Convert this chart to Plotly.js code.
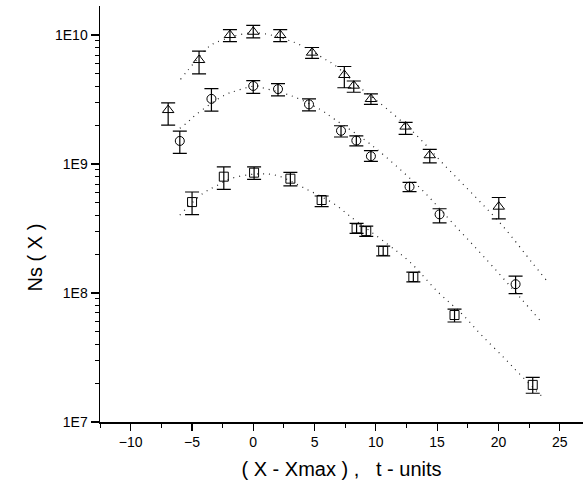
<!DOCTYPE html>
<html>
<head>
<meta charset="utf-8">
<script src="https://cdn.plot.ly/plotly-3.0.1.min.js"></script>
<style>html,body{margin:0;padding:0;background:#fff}#chart{width:583px;height:495px}</style>
</head>
<body>
<div id="chart"></div>
<script>
// Triangles (upper series)
const triX  = [-6.94, -4.42, -1.9, 0, 2.2, 4.8, 7.43, 8.2, 9.6, 12.43, 14.4, 20.03];
const triY  = [2.62e9, 6.4e9, 1.0e10, 1.06e10, 1.0e10, 7.3e9, 4.9e9, 4.05e9, 3.19e9, 1.95e9, 1.17e9, 4.67e8];
const triHi = [2.98e9, 7.5e9, 1.1e10, 1.19e10, 1.1e10, 8.0e9, 5.7e9, 4.4e9, 3.5e9, 2.1e9, 1.3e9, 5.5e8];
const triLo = [2.0e9, 5.0e9, 8.9e9, 9.5e9, 8.9e9, 6.6e9, 3.9e9, 3.6e9, 2.9e9, 1.7e9, 1.02e9, 3.75e8];

// Circles (middle series)
const cirX  = [-5.99, -3.41, 0, 2.02, 4.55, 7.16, 8.41, 9.6, 12.75, 15.2, 21.4];
const cirY  = [1.51e9, 3.2e9, 4.03e9, 3.81e9, 2.9e9, 1.81e9, 1.52e9, 1.15e9, 6.67e8, 4.07e8, 1.17e8];
const cirHi = [1.8e9, 3.84e9, 4.43e9, 4.2e9, 3.2e9, 1.98e9, 1.65e9, 1.27e9, 7.2e8, 4.5e8, 1.35e8];
const cirLo = [1.21e9, 2.57e9, 3.53e9, 3.38e9, 2.58e9, 1.62e9, 1.38e9, 1.05e9, 6.1e8, 3.5e8, 9.9e7];

// Squares (lower series)
const sqX  = [-4.99, -2.4, 0.07, 3.03, 5.58, 8.43, 9.22, 10.6, 13.06, 16.42, 22.8];
const sqY  = [5.07e8, 7.98e8, 8.57e8, 7.7e8, 5.26e8, 3.17e8, 3.02e8, 2.12e8, 1.33e8, 6.75e7, 1.94e7];
const sqHi = [6.07e8, 9.5e8, 9.5e8, 8.6e8, 5.65e8, 3.47e8, 3.3e8, 2.31e8, 1.45e8, 7.5e7, 2.22e7];
const sqLo = [4.05e8, 6.37e8, 7.6e8, 6.76e8, 4.67e8, 2.9e8, 2.75e8, 1.94e8, 1.22e8, 5.96e7, 1.67e7];

// Dotted fit curves
const fitTriX = [-5.93, -5.31, -3.63, -3.0, 0, 3.33, 5.97, 6.64, 8.95, 10.8, 13.16, 15.6, 18.05, 20.36, 22.75, 23.9];
const fitTriY = [4.54e9, 5.36e9, 8.1e9, 8.78e9, 1.04e10, 8.78e9, 6.4e9, 5.85e9, 3.75e9, 2.73e9, 1.73e9, 9.8e8, 5.65e8, 3.3e8, 1.72e8, 1.26e8];
const fitCirX = [-5.99, -5.4, -4.63, -2.32, -1.37, 0.26, 0.94, 3.11, 5.42, 6.64, 9.09, 10.8, 13.84, 16.28, 18.73, 21.72, 23.49];
const fitCirY = [1.89e9, 2.09e9, 2.43e9, 3.43e9, 3.7e9, 4.03e9, 3.86e9, 3.38e9, 2.66e9, 2.22e9, 1.54e9, 1.14e9, 6.2e8, 3.47e8, 1.95e8, 9.35e7, 5.98e7];
const fitSqX = [-5.99, -4.09, -2.87, -1.78, 0.26, 1.89, 4.2, 6.64, 7.86, 10.86, 12.75, 15.06, 16.97, 18.68, 20.5, 21.66, 23.49];
const fitSqY = [4.02e8, 5.93e8, 6.88e8, 7.74e8, 8.36e8, 8.17e8, 6.48e8, 4.88e8, 3.96e8, 2.43e8, 1.75e8, 1.02e8, 6.97e7, 4.65e7, 3.12e7, 2.39e7, 1.6e7];

const yTickVals = [1e7, 1e8, 1e9, 1e10];
const yTickText = ['1E7', '1E8', '1E9', '1E10'];
const xTickVals = [-10, -5, 0, 5, 10, 15, 20, 25];

const yMinor = [];
[1e7, 1e8, 1e9].forEach(d => { for (let k = 2; k <= 9; k++) yMinor.push(k * d); });

function diff(a, b) { return a.map((v, i) => v - b[i]); }

function fit(x, y) {
  return {x: x, y: y, type: 'scatter', mode: 'lines', hoverinfo: 'skip',
    line: {color: '#222', width: 1.2, dash: '1px,5px', shape: 'spline'}, showlegend: false};
}
function pts(x, y, hi, lo, sym, sz) {
  return {x: x, y: y, type: 'scatter', mode: 'markers', showlegend: false,
    marker: {symbol: sym, size: sz, color: '#000', line: {color: '#000', width: 1}},
    error_y: {type: 'data', symmetric: false, array: diff(hi, y), arrayminus: diff(y, lo),
      color: '#000', thickness: 1.2, width: 7}};
}

const data = [
  fit(fitTriX, fitTriY), fit(fitCirX, fitCirY), fit(fitSqX, fitSqY),
  pts(triX, triY, triHi, triLo, 'triangle-up-open', 10),
  pts(cirX, cirY, cirHi, cirLo, 'circle-open', 9),
  pts(sqX, sqY, sqHi, sqLo, 'square-open', 9)
];

const layout = {
  width: 583, height: 495,
  margin: {l: 100, r: 0, t: 6, b: 73},
  paper_bgcolor: '#fff', plot_bgcolor: '#fff',
  font: {family: 'Liberation Sans, Arial, sans-serif', color: '#000', size: 14},
  showlegend: false,
  xaxis: {
    range: [-12.5, 26.9], showgrid: false, zeroline: false,
    showline: true, linecolor: '#000', linewidth: 1.5,
    ticks: 'outside', ticklen: 7, tickwidth: 1.2, tickcolor: '#000',
    tickmode: 'array', tickvals: xTickVals,
    tickfont: {size: 14},
    minor: {dtick: 2.5, tick0: 0, ticks: 'outside', ticklen: 4, tickwidth: 1, tickcolor: '#000', showgrid: false},
    title: {text: '( X - Xmax ) ,   t - units', font: {size: 20}, standoff: 12}
  },
  yaxis: {
    type: 'log', range: [7, 10.225], showgrid: false, zeroline: false,
    showline: true, linecolor: '#000', linewidth: 1.5,
    ticks: 'outside', ticklen: 8, tickwidth: 1.2, tickcolor: '#000',
    tickmode: 'array', tickvals: yTickVals, ticktext: yTickText,
    tickfont: {size: 14},
    minor: {tickmode: 'array', tickvals: yMinor, ticks: 'outside', ticklen: 4, tickwidth: 1, tickcolor: '#000', showgrid: false}
  },
  annotations: [{
    text: 'Ns ( X )', xref: 'paper', yref: 'paper',
    x: -0.135, y: 0.395, xanchor: 'center', yanchor: 'middle',
    textangle: -90, showarrow: false, font: {size: 20}
  }]
};

Plotly.newPlot('chart', data, layout, {displayModeBar: false, staticPlot: true});
</script>
</body>
</html>
